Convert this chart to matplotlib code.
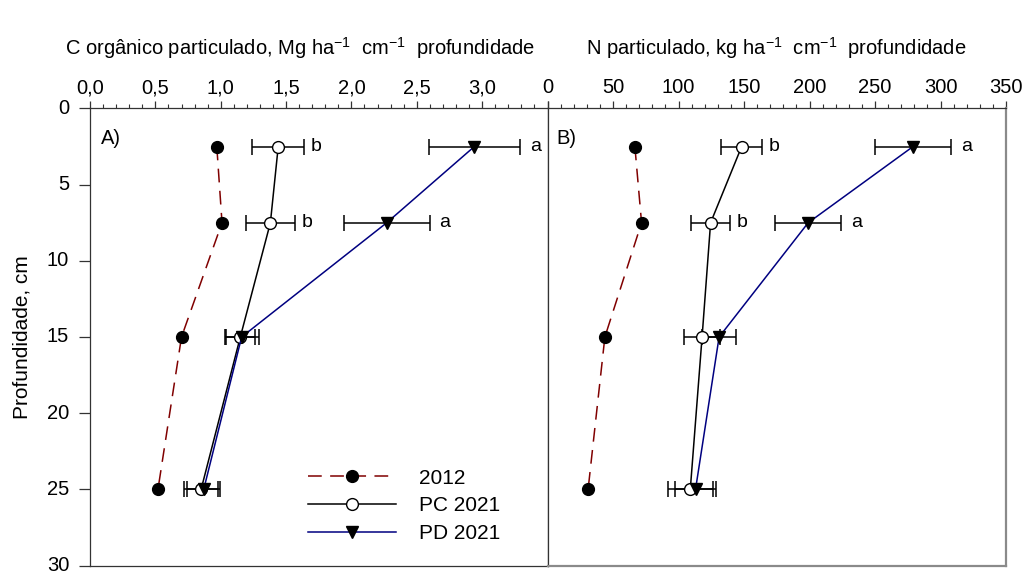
import matplotlib
matplotlib.use("Agg")
import matplotlib.pyplot as plt
from matplotlib.ticker import MultipleLocator, FixedLocator

plt.rcParams['font.family'] = ['Liberation Sans', 'DejaVu Sans']
plt.rcParams['mathtext.default'] = 'regular'

# Soil depth (cm), mid-point of each layer
depth = [2.5, 7.5, 15, 25]

# Particulate organic C, Mg ha-1 cm-1
c_2012 = [0.97, 1.01, 0.70, 0.52]
c_pc = [1.44, 1.38, 1.15, 0.85]
c_pc_err = [0.20, 0.19, 0.11, 0.13]
c_pd = [2.94, 2.27, 1.16, 0.87]
c_pd_err = [0.35, 0.33, 0.13, 0.125]
c_pc_letters = ['b', 'b', '', '']
c_pd_letters = ['a', 'a', '', '']

# Particulate N, kg ha-1 cm-1
n_2012 = [66.7, 71.8, 43.8, 31.0]
n_pc = [148.2, 124.5, 118.0, 109.0]
n_pc_err = [15.7, 15.0, 14.0, 17.0]
n_pd = [279.0, 199.0, 131.0, 113.0]
n_pd_err = [29.0, 25.0, 13.0, 16.0]
n_pc_letters = ['b', 'b', '', '']
n_pd_letters = ['a', 'a', '', '']

RED = '#800000'
BLUE = '#000080'
DARK = '#333333'
GRAY = '#8a8a8a'
FS = 14.5

fig = plt.figure(figsize=(10.25, 5.74), dpi=100)
W, H = 1025, 574
BOT, TOP = 565.5, 108.5
axA = fig.add_axes([90 / W, (H - BOT) / H, (547.5 - 90) / W, (BOT - TOP) / H])
axB = fig.add_axes([547.5 / W, (H - BOT) / H, (1006 - 547.5) / W, (BOT - TOP) / H])


def draw(ax, v2012, vpc, epc, vpd, epd, lpc, lpd):
    ax.plot(v2012, depth, color=RED, lw=1.1, dashes=(9, 5.5), marker='o',
            markersize=8.5, markerfacecolor='black', markeredgecolor='black',
            label='2012', zorder=3)
    ax.errorbar(vpc, depth, xerr=epc, fmt='none', ecolor='black',
                elinewidth=1.1, capsize=5.5, capthick=1.1, zorder=2)
    ax.errorbar(vpd, depth, xerr=epd, fmt='none', ecolor='black',
                elinewidth=1.1, capsize=5.5, capthick=1.1, zorder=2)
    ax.plot(vpc, depth, color='black', lw=1.1, marker='o', markersize=8.5,
            markerfacecolor='white', markeredgecolor='black',
            label='PC 2021', zorder=4)
    ax.plot(vpd, depth, color=BLUE, lw=1.1, marker='v', markersize=9,
            markerfacecolor='black', markeredgecolor='black',
            label='PD 2021', zorder=5)
    for x, e, y, t in zip(vpc, epc, depth, lpc):
        if t:
            ax.annotate(t, xy=(x + e, y), xytext=(4.5, 0), textcoords='offset points',
                        ha='left', va='center', fontsize=14)
    for x, e, y, t in zip(vpd, epd, depth, lpd):
        if t:
            ax.annotate(t, xy=(x + e, y), xytext=(7, 0), textcoords='offset points',
                        ha='left', va='center', fontsize=14)
    ax.set_ylim(30, 0)
    ax.xaxis.set_ticks_position('top')
    ax.xaxis.set_label_position('top')
    ax.tick_params(axis='x', which='major', direction='out', length=5, width=0.9,
                   color=DARK, labelsize=FS, pad=3)
    ax.tick_params(axis='x', which='minor', direction='out', length=3, width=0.8,
                   color=DARK)


draw(axA, c_2012, c_pc, c_pc_err, c_pd, c_pd_err, c_pc_letters, c_pd_letters)
draw(axB, n_2012, n_pc, n_pc_err, n_pd, n_pd_err, n_pc_letters, n_pd_letters)

# Panel A axes
axA.set_xlim(0, 3.5)
axA.xaxis.set_major_locator(FixedLocator([0, 0.5, 1.0, 1.5, 2.0, 2.5, 3.0, 3.5]))
axA.set_xticklabels(['0,0', '0,5', '1,0', '1,5', '2,0', '2,5', '3,0', ''])
axA.xaxis.set_minor_locator(MultipleLocator(0.1))
axA.yaxis.set_major_locator(MultipleLocator(5))
axA.tick_params(axis='y', direction='out', length=8, width=0.9, color=DARK,
                labelsize=FS, pad=7)
for lab in axA.get_yticklabels():
    lab.set_verticalalignment('center')
axA.set_ylabel('Profundidade, cm', fontsize=15, labelpad=11)
axA.set_xlabel('C orgânico particulado, Mg ha$^{-1}$  cm$^{-1}$  profundidade',
               fontsize=FS)
axA.xaxis.set_label_coords(0.46, (BOT - 55) / (BOT - TOP))
for s in axA.spines.values():
    s.set_color(DARK)
    s.set_linewidth(0.9)
axA.text(0.025, 0.955, 'A)', transform=axA.transAxes, fontsize=FS,
         ha='left', va='top')
axA.legend(loc='lower left', bbox_to_anchor=(0.445, 0.017), frameon=False,
           fontsize=15, handlelength=4.2, handletextpad=1.1,
           labelspacing=0.42, borderpad=0.2)

# Panel B axes
axB.set_xlim(0, 350)
axB.xaxis.set_major_locator(MultipleLocator(50))
axB.xaxis.set_minor_locator(MultipleLocator(10))
axB.yaxis.set_major_locator(MultipleLocator(5))
axB.tick_params(axis='y', which='both', left=False, labelleft=False)
axB.set_xlabel('N particulado, kg ha$^{-1}$  cm$^{-1}$  profundidade',
               fontsize=FS)
axB.xaxis.set_label_coords(0.498, (BOT - 55) / (BOT - TOP))
axB.spines['left'].set_color(DARK)
axB.spines['top'].set_color(DARK)
axB.spines['left'].set_linewidth(0.9)
axB.spines['top'].set_linewidth(0.9)
axB.spines['right'].set_color(GRAY)
axB.spines['bottom'].set_color(GRAY)
axB.spines['right'].set_linewidth(1.6)
axB.spines['bottom'].set_linewidth(1.6)
axB.text(0.02, 0.955, 'B)', transform=axB.transAxes, fontsize=FS,
         ha='left', va='top')

fig.savefig('out.png', dpi=100, facecolor='white')
